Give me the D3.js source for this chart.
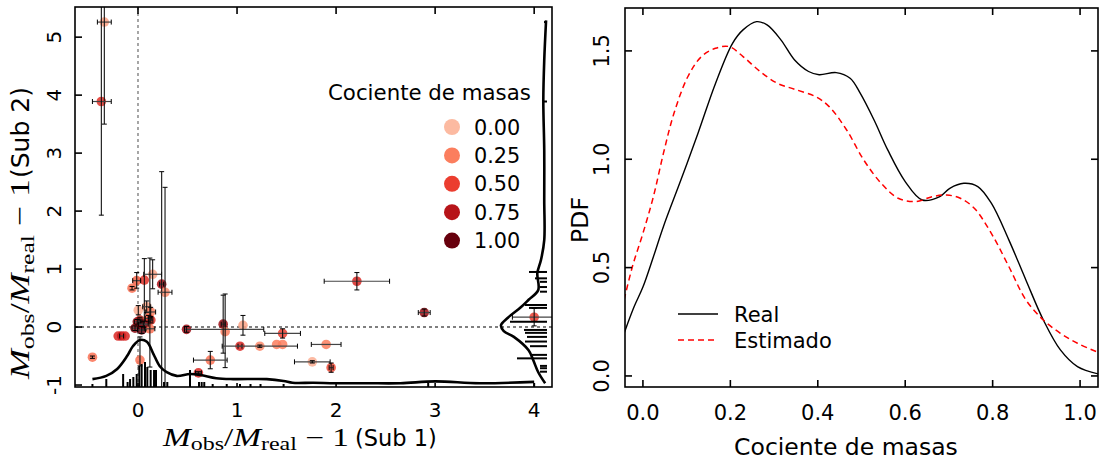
<!DOCTYPE html>
<html><head><meta charset="utf-8">
<script src="https://cdn.jsdelivr.net/npm/d3@7"></script>
<style>body{margin:0;background:#fff}svg{display:block}text{font-family:"DejaVu Sans",sans-serif;fill:#000}</style>
</head><body><svg id="c" width="1102" height="462"></svg>
<script>
// ---------- DATA ----------
// scatter: [x(Sub1), y(Sub2), massRatio, xErrLo, xErrHi, yErrLo, yErrHi]
const points = [
 [-0.34, 5.26, 0.10, 0.07, 0.07, 1.76, 1.76],
 [-0.37, 3.89, 0.55, 0.09, 0.10, 1.96, 1.96],
 [-0.46, -0.52, 0.30, 0, 0, 0.02, 0.02],
 [-0.20, -0.155, 0.60, 0, 0, 0, 0],
 [-0.165, -0.155, 0.70, 0.02, 0.02, 0, 0],
 [-0.13, -0.155, 0.60, 0, 0, 0, 0],
 [-0.06, 0.67, 0.30, 0, 0, 0.03, 0.03],
 [-0.013, 0.80, 0.35, 0.04, 0.04, 0.13, 0.14],
 [0.064, 0.81, 0.55, 0, 0, 0.86, 0.37],
 [0.148, 0.91, 0.10, 0.09, 0.09, 0.25, 0.25],
 [0.239, 0.74, 0.80, 0.02, 0.02, 1.94, 1.94],
 [0.273, 0.60, 0.20, 0.07, 0.07, 1.81, 1.81],
 [0.003, 0.29, 0.05, 0, 0, 0.08, 0.08],
 [0.088, 0.35, 0.10, 0.04, 0.04, 0.10, 0.10],
 [0.128, 0.26, 0.25, 0.05, 0.05, 0.08, 0.08],
 [0.02, 0.12, 0.50, 0.02, 0.02, 0.05, 0.05],
 [0.104, 0.15, 0.35, 0.03, 0.03, 0.05, 0.05],
 [-0.03, -0.02, 0.90, 0.03, 0.03, 0.04, 0.04],
 [0.037, -0.05, 1.00, 0.04, 0.04, 0.06, 0.06],
 [0.13, 0.12, 0.55, 0.02, 0.02, 0.05, 0.05],
 [0.12, -0.03, 0.30, 0.05, 0.05, 0.66, 1.22],
 [-0.007, 0.09, 0.85, 0.03, 0.03, 0.04, 0.04],
 [0.054, 0.05, 0.95, 0.05, 0.05, 0.05, 0.05],
 [0.02, -0.57, 0.30, 0, 0, 0.10, 0.40],
 [0.49, -0.04, 0.85, 0.02, 0.78, 0.05, 0.05],
 [0.86, 0.05, 0.85, 0.02, 0.02, 0.50, 0.50],
 [0.88, -0.08, 0.25, 0, 0, 0.62, 0.65],
 [1.06, 0.03, 0.10, 0, 0, 0.17, 0.17],
 [0.73, -0.57, 0.30, 0.17, 0.17, 0.15, 0.15],
 [0.61, -0.79, 0.60, 0.03, 0.03, 0.02, 0.02],
 [1.03, -0.33, 0.60, 0.02, 0.02, 0, 0],
 [1.23, -0.33, 0.20, 0.38, 0.38, 0.02, 0.02],
 [1.40, -0.30, 0.25, 0, 0, 0, 0],
 [1.46, -0.30, 0.25, 0, 0, 0, 0],
 [1.46, -0.11, 0.50, 0.18, 0.18, 0.08, 0.08],
 [1.76, -0.60, 0.05, 0.18, 0.18, 0.02, 0.02],
 [1.95, -0.70, 0.45, 0.02, 0.02, 0.08, 0.08],
 [1.90, -0.30, 0.25, 0.15, 0.15, 0, 0],
 [2.21, 0.79, 0.60, 0.33, 0.33, 0.15, 0.15],
 [2.89, 0.25, 0.85, 0.06, 0.06, 0.06, 0.06],
 [4.00, 0.17, 0.50, 0.22, 0.22, 0.15, 0.15]
];
// marginal density along x (bottom) : [x, density]
const kdeX = [[-0.46,0.15],[-0.32,0.22],[-0.21,0.37],[-0.11,0.65],[-0.05,0.87],[0.02,1.0],[0.09,0.96],[0.155,0.70],[0.22,0.43],[0.29,0.30],[0.39,0.22],[0.525,0.26],[0.63,0.24],[0.79,0.17],[0.96,0.15],[1.3,0.15],[1.47,0.11],[1.56,0.07],[1.77,0.07],[1.99,0.06],[2.31,0.06],[2.65,0.06],[3.0,0.10],[3.45,0.06],[4.0,0.09]];
// marginal density along y (right) : [y, density]
const kdeY = [[5.29,0.02],[4.6,0.06],[3.91,0.08],[3.05,0.06],[2.19,0.06],[1.5,0.06],[1.16,0.13],[0.93,0.21],[0.64,0.19],[0.47,0.40],[0.34,0.57],[0.16,0.85],[0.03,1.0],[-0.07,0.94],[-0.17,0.72],[-0.40,0.40],[-0.57,0.30],[-0.78,0.19],[-0.97,0.04]];
// spike histograms: [value, count]
const spikesX = [[-0.46,0.5],[-0.32,1.75],[-0.15,3],[-0.105,1],[-0.08,1.75],[-0.047,2.25],[-0.013,3],[0.013,5],[0.037,5.5],[0.071,6],[0.094,4.75],[0.128,4],[0.162,4],[0.182,4],[0.263,1],[0.296,1],[0.525,4],[0.616,1],[0.643,1],[0.669,1],[0.754,0.5],[0.896,0.5],[1.03,0.5],[1.136,0.5],[1.237,0.5],[1.47,0.5],[2.93,0.75],[4.0,0.75]];
const spikesY = [[5.26,0.75],[3.89,0.75],[0.95,4.5],[0.84,3],[0.78,1.75],[0.69,1.75],[0.61,1.75],[0.38,5.5],[0.33,4.5],[0.09,9.25],[-0.05,5.75],[-0.10,5.5],[-0.17,5],[-0.25,5.5],[-0.33,4.25],[-0.48,3.75],[-0.54,7.5],[-0.67,1.75],[-0.71,1.75],[-0.77,1.75]];
const legendValues = [0.00, 0.25, 0.50, 0.75, 1.00];
const legendTitle = "Cociente de masas";
const leftXTicks = [0,1,2,3,4];
const leftYTicks = [-1,0,1,2,3,4,5];
// right panel: PDF curves
const pdfReal = [[-0.043,0.197],[-0.02,0.32],[0,0.41],[0.024,0.55],[0.047,0.69],[0.087,0.905],[0.126,1.12],[0.166,1.35],[0.205,1.535],[0.229,1.597],[0.26,1.635],[0.284,1.62],[0.316,1.55],[0.347,1.458],[0.379,1.405],[0.403,1.39],[0.442,1.40],[0.474,1.374],[0.497,1.305],[0.529,1.18],[0.56,1.043],[0.6,0.897],[0.639,0.812],[0.679,0.828],[0.702,0.866],[0.734,0.889],[0.766,0.874],[0.797,0.797],[0.837,0.628],[0.876,0.443],[0.916,0.258],[0.955,0.12],[0.994,0.043],[1.042,0.009]];
const pdfEst = [[-0.043,0.351],[-0.024,0.505],[0,0.658],[0.024,0.828],[0.047,1.028],[0.071,1.212],[0.103,1.382],[0.134,1.474],[0.166,1.512],[0.197,1.52],[0.229,1.474],[0.268,1.405],[0.308,1.35],[0.347,1.323],[0.395,1.289],[0.426,1.243],[0.466,1.135],[0.505,0.997],[0.545,0.889],[0.584,0.82],[0.624,0.805],[0.663,0.828],[0.695,0.835],[0.726,0.82],[0.758,0.774],[0.797,0.658],[0.837,0.505],[0.876,0.351],[0.916,0.258],[0.955,0.197],[0.994,0.151],[1.042,0.108]];
const rightXTicks = [0.0,0.2,0.4,0.6,0.8,1.0];
const rightYTicks = [0.0,0.5,1.0,1.5];
const seriesNames = ["Real","Estimado"];

// ---------- DRAW ----------
const svg = d3.select("#c");
const color = q => d3.interpolateReds(0.25 + 0.75*q);

// LEFT PANEL
const xL = d3.scaleLinear().domain([-0.636, 4.18]).range([75, 552]);
const yL = d3.scaleLinear().domain([-1.034, 5.52]).range([387, 7]);
const L = svg.append("g");
L.append("clipPath").attr("id","clipL").append("rect")
  .attr("x",75).attr("y",7).attr("width",477).attr("height",380);
const LP = L.append("g").attr("clip-path","url(#clipL)");

LP.append("line").attr("x1",xL(0)).attr("x2",xL(0)).attr("y1",7).attr("y2",387)
  .attr("stroke","#777").attr("stroke-width",1.3).attr("stroke-dasharray","3,3");
LP.append("line").attr("x1",75).attr("x2",552).attr("y1",yL(0)).attr("y2",yL(0))
  .attr("stroke","#000").attr("stroke-width",1.1).attr("stroke-dasharray","3,3");

LP.selectAll("circle.pt").data(points).join("circle").attr("class","pt")
  .attr("cx",d=>xL(d[0])).attr("cy",d=>yL(d[1])).attr("r",4.8)
  .attr("fill",d=>color(d[2])).attr("fill-opacity",0.85);

const cap = 2.5;
points.forEach(d=>{
  const cx = xL(d[0]), cy = yL(d[1]);
  if (d[3]>0 || d[4]>0) {
    const x1 = xL(d[0]-d[3]), x2 = xL(d[0]+d[4]);
    LP.append("line").attr("x1",x1).attr("x2",x2).attr("y1",cy).attr("y2",cy).attr("stroke","#444").attr("stroke-width",1.2);
    [x1,x2].forEach(x=>LP.append("line").attr("x1",x).attr("x2",x).attr("y1",cy-cap).attr("y2",cy+cap).attr("stroke","#000").attr("stroke-width",1));
  }
  if (d[5]>0 || d[6]>0) {
    const y1 = yL(d[1]-d[5]), y2 = yL(d[1]+d[6]);
    LP.append("line").attr("x1",cx).attr("x2",cx).attr("y1",y1).attr("y2",y2).attr("stroke","#111").attr("stroke-width",1.1);
    [y1,y2].forEach(y=>LP.append("line").attr("x1",cx-cap).attr("x2",cx+cap).attr("y1",y).attr("y2",y).attr("stroke","#000").attr("stroke-width",1));
  }
});

const dens = d3.scaleLinear().domain([0,1]).range([0,46]);
const cnt = d3.scaleLinear().domain([0,1]).range([0,4]);
const baseB = 386, baseR = 547;
LP.selectAll("line.sx").data(spikesX).join("line").attr("class","sx")
  .attr("x1",d=>xL(d[0])).attr("x2",d=>xL(d[0])).attr("y1",baseB+2).attr("y2",d=>baseB-cnt(d[1]))
  .attr("stroke","#000").attr("stroke-width",2);
LP.selectAll("line.sy").data(spikesY).join("line").attr("class","sy")
  .attr("y1",d=>yL(d[0])).attr("y2",d=>yL(d[0])).attr("x1",baseR).attr("x2",d=>baseR-cnt(d[1]))
  .attr("stroke","#000").attr("stroke-width",2);
LP.append("path").datum(kdeX)
  .attr("d", d3.line().x(d=>xL(d[0])).y(d=>baseB-dens(d[1])).curve(d3.curveCatmullRom))
  .attr("fill","none").attr("stroke","#000").attr("stroke-width",2.6);
LP.append("path").datum(kdeY)
  .attr("d", d3.line().y(d=>yL(d[0])).x(d=>baseR-dens(d[1])).curve(d3.curveCatmullRom))
  .attr("fill","none").attr("stroke","#000").attr("stroke-width",2.6);

L.append("rect").attr("x",75).attr("y",7).attr("width",477).attr("height",380)
  .attr("fill","none").attr("stroke","#000").attr("stroke-width",1.6);
const tk = 7;
leftYTicks.forEach(v=>{
  L.append("line").attr("x1",75).attr("x2",75+tk).attr("y1",yL(v)).attr("y2",yL(v)).attr("stroke","#000").attr("stroke-width",1.6);
  L.append("text").attr("transform",`translate(61,${yL(v)}) rotate(-90)`).attr("text-anchor","middle")
    .attr("font-size",20).text(v<0?"-"+Math.abs(v):String(v));
});
leftXTicks.forEach(v=>{
  L.append("line").attr("x1",xL(v)).attr("x2",xL(v)).attr("y1",7).attr("y2",7+tk).attr("stroke","#000").attr("stroke-width",1.6);
  L.append("line").attr("x1",xL(v)).attr("x2",xL(v)).attr("y1",387).attr("y2",387-tk+3).attr("stroke","#000").attr("stroke-width",1.6);
  L.append("text").attr("x",xL(v)).attr("y",417).attr("text-anchor","middle").attr("font-size",20).text(String(v));
});

// axis labels: math part (serif, slightly widened like Computer Modern) + sans tail
function axisLabel(g, mathWidth, fs, tail, gap, tailFs) {
  const serif = "'Liberation Serif','DejaVu Serif',serif";
  const t = g.append("text").style("font-family",serif);
  const parts = [
    {s:"M", it:true, fs:fs, dy:0},
    {s:"obs", fs:fs*0.72, dy:fs*0.17},
    {s:"/", fs:fs, dy:-fs*0.17},
    {s:"M", it:true, fs:fs, dy:0},
    {s:"real", fs:fs*0.72, dy:fs*0.17},
    {s:"\u00a0\u2212\u00a01", fs:fs, dy:-fs*0.17}
  ];
  parts.forEach(p=>t.append("tspan").style("font-family",serif).attr("font-style",p.it?"italic":"normal")
    .attr("font-size",p.fs).attr("dy",p.dy).text(p.s));
  const w = t.node().getComputedTextLength();
  t.attr("transform",`scale(${mathWidth/w},1)`);
  g.append("text").attr("x",mathWidth+gap).attr("font-size",tailFs).text(tail);
}
axisLabel(L.append("g").attr("transform","translate(163,446)"), 186, 25, "(Sub 1)", 6, 22.5);
axisLabel(L.append("g").attr("transform","translate(29,379) rotate(-90)"), 200, 27.5, "(Sub 2)", 1, 25);

// legend
L.append("text").attr("x",328).attr("y",100).attr("font-size",21.3).text(legendTitle);
legendValues.forEach((v,i)=>{
  const y = 127 + i*28.4;
  L.append("circle").attr("cx",452).attr("cy",y).attr("r",8).attr("fill",color(v));
  L.append("text").attr("x",474).attr("y",y+7.5).attr("font-size",20.8).text(v.toFixed(2));
});

// RIGHT PANEL
const xR = d3.scaleLinear().domain([-0.041, 1.041]).range([625, 1098]);
const yR = d3.scaleLinear().domain([-0.051, 1.698]).range([387, 8]);
const R = svg.append("g");
R.append("clipPath").attr("id","clipR").append("rect")
  .attr("x",625).attr("y",8).attr("width",473).attr("height",379);
const RP = R.append("g").attr("clip-path","url(#clipR)");
const lineR = d3.line().x(d=>xR(d[0])).y(d=>yR(d[1])).curve(d3.curveCatmullRom);
RP.append("path").datum(pdfReal).attr("d",lineR).attr("fill","none").attr("stroke","#000").attr("stroke-width",1.4);
RP.append("path").datum(pdfEst).attr("d",lineR).attr("fill","none").attr("stroke","#f00").attr("stroke-width",1.5).attr("stroke-dasharray","6,4");
R.append("rect").attr("x",625).attr("y",8).attr("width",473).attr("height",379)
  .attr("fill","none").attr("stroke","#000").attr("stroke-width",1.6);
rightXTicks.forEach(v=>{
  const x = xR(v);
  R.append("line").attr("x1",x).attr("x2",x).attr("y1",387).attr("y2",387-tk).attr("stroke","#000").attr("stroke-width",1.6);
  R.append("line").attr("x1",x).attr("x2",x).attr("y1",8).attr("y2",8+tk).attr("stroke","#000").attr("stroke-width",1.6);
  R.append("text").attr("x",x).attr("y",420).attr("text-anchor","middle").attr("font-size",21).text(v.toFixed(1));
});
rightYTicks.forEach(v=>{
  const y = yR(v);
  R.append("line").attr("x1",625).attr("x2",625+tk).attr("y1",y).attr("y2",y).attr("stroke","#000").attr("stroke-width",1.6);
  R.append("line").attr("x1",1098).attr("x2",1098-tk).attr("y1",y).attr("y2",y).attr("stroke","#000").attr("stroke-width",1.6);
  R.append("text").attr("transform",`translate(609,${y}) rotate(-90)`).attr("text-anchor","middle").attr("font-size",21).text(v.toFixed(1));
});
R.append("text").attr("x",846).attr("y",455).attr("text-anchor","middle").attr("font-size",23.5).text("Cociente de masas");
R.append("text").attr("transform","translate(588,220) rotate(-90)").attr("text-anchor","middle").attr("font-size",23.5).text("PDF");
R.append("line").attr("x1",678).attr("x2",718).attr("y1",314).attr("y2",314).attr("stroke","#000").attr("stroke-width",1.4);
R.append("line").attr("x1",678).attr("x2",716).attr("y1",340).attr("y2",340).attr("stroke","#f00").attr("stroke-width",1.5).attr("stroke-dasharray","6,4");
R.append("text").attr("x",734).attr("y",321.5).attr("font-size",21).text(seriesNames[0]);
R.append("text").attr("x",734).attr("y",347.5).attr("font-size",21).text(seriesNames[1]);
</script></body></html>
